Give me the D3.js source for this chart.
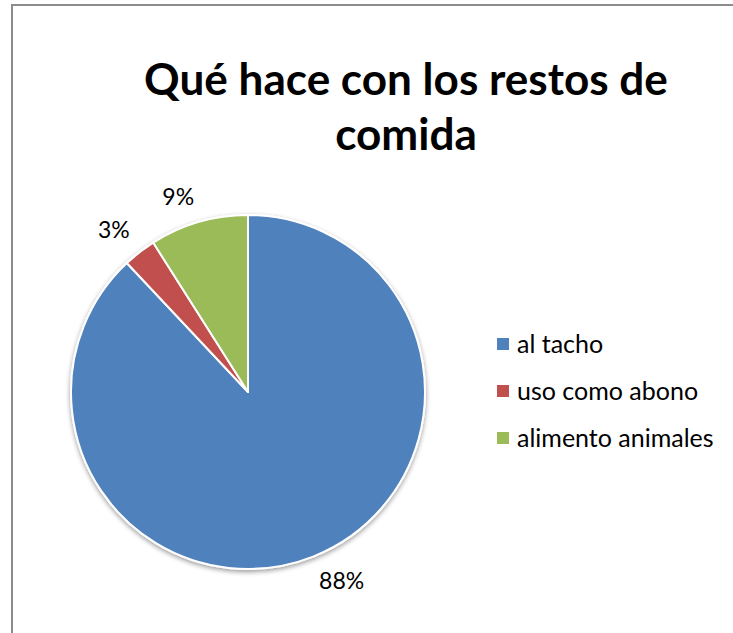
<!DOCTYPE html>
<html><head><meta charset="utf-8">
<script src="https://cdn.jsdelivr.net/npm/d3@7"></script>
<style>body{margin:0;background:#fff}svg{display:block}</style>
</head><body>
<svg id="c" width="733" height="633"></svg>
<script>
const categories = ["al tacho", "uso como abono", "alimento animales"];
const values = [88, 3, 9];
const labels = ["88%", "3%", "9%"];
const colors = ["#4F81BD", "#C0504D", "#9BBB59"];
const titleLines = ["Qué hace con los restos de", "comida"];

const svg = d3.select("#c");
const font = "Lato, 'Open Sans', sans-serif";

svg.append("rect").attr("x", 12).attr("y", 5).attr("width", 760).attr("height", 700)
  .attr("fill", "#fff").attr("stroke", "#8c8c8c").attr("stroke-width", 2);

const title = svg.append("g").attr("font-family", font).attr("font-weight", "bold")
  .attr("font-size", 42).attr("text-anchor", "middle").attr("fill", "#000");
titleLines.forEach((t, i) => {
  title.append("text").attr("x", 406).attr("y", 95 + i * 55).text(t);
});
const first = title.select("text").node();
const w = first.getComputedTextLength();
title.attr("font-size", 42 * 524 / w);

const cx = 248, cy = 392, r = 177;
const pie = d3.pie().sort(null).value(d => d)(values);
const arc = d3.arc().innerRadius(0).outerRadius(r);

const defs = svg.append("defs");
const f = defs.append("filter").attr("id", "sh").attr("x", "-20%").attr("y", "-20%").attr("width", "140%").attr("height", "140%");
f.append("feGaussianBlur").attr("in", "SourceAlpha").attr("stdDeviation", 2.5);
f.append("feOffset").attr("dx", 0).attr("dy", 2).attr("result", "b");
f.append("feComponentTransfer").append("feFuncA").attr("type", "linear").attr("slope", 0.4);
const m = f.append("feMerge");
m.append("feMergeNode"); m.append("feMergeNode").attr("in", "SourceGraphic");

const g = svg.append("g").attr("transform", `translate(${cx},${cy})`);
g.append("g").attr("filter", "url(#sh)").selectAll("path").data(pie).join("path")
  .attr("d", arc).attr("fill", (d, i) => colors[i])
  .attr("stroke", "#fff").attr("stroke-width", 2).attr("stroke-linejoin", "round");

const lbl = svg.append("g").attr("font-family", font).attr("font-size", 23).attr("fill", "#000").attr("text-anchor", "middle");
const lr = r + 16;
pie.forEach((d, i) => {
  const a = (d.startAngle + d.endAngle) / 2;
  const dx = Math.sin(a), dy = -Math.cos(a);
  const t = lbl.append("text").attr("dy", "0.35em").text(labels[i]);
  const hw = t.node().getComputedTextLength() / 2, hh = 10;
  const x = cx + lr * dx + Math.sign(dx) * hw;
  const y = cy + lr * dy + Math.sign(dy) * hh;
  t.attr("x", x).attr("y", y);
});

const leg = svg.append("g").attr("font-family", font).attr("font-size", 25).attr("fill", "#000");
categories.forEach((c, i) => {
  const y = 344 + i * 47;
  leg.append("rect").attr("x", 497).attr("y", y - 6).attr("width", 12).attr("height", 12).attr("fill", colors[i]);
  leg.append("text").attr("x", 517).attr("y", y).attr("dy", "0.35em").text(c);
});
</script>
</body></html>
